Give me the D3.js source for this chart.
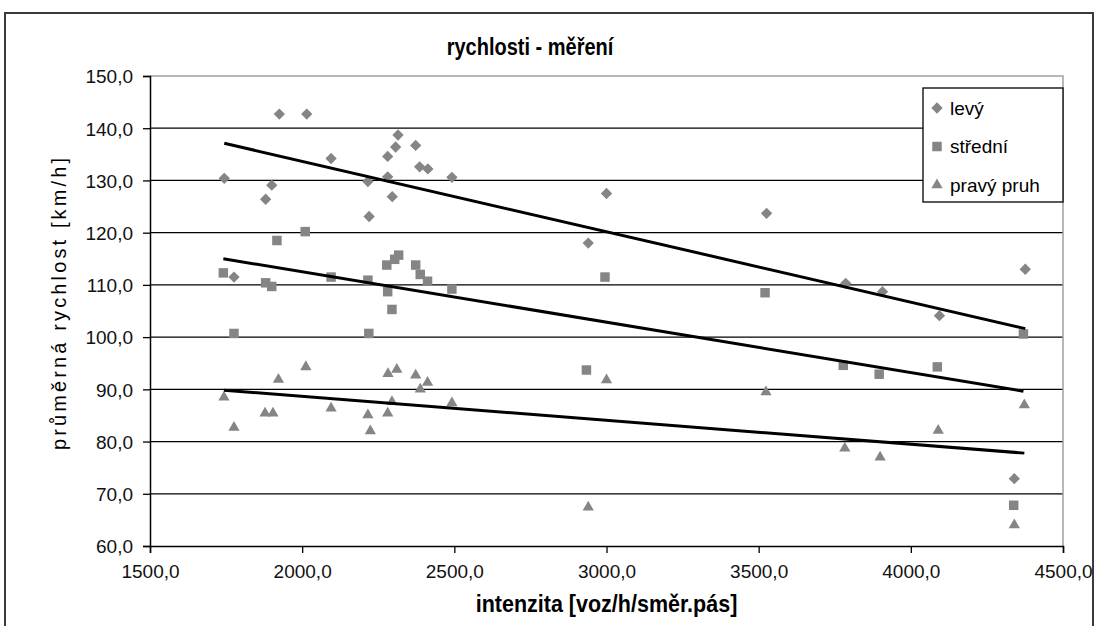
<!DOCTYPE html>
<html>
<head>
<meta charset="utf-8">
<script src="https://cdn.jsdelivr.net/npm/d3@7"></script>
<style>
  body { margin: 0; background: #fff; }
  svg { display: block; font-family: Arial, "Liberation Sans", sans-serif; }
</style>
</head>
<body>
<div id="chart"></div>
<script>
// ---------------------------------------------------------------- data
const seriesNames = ["levý", "střední", "pravý pruh"];

const levyX = [1744, 1776, 1880, 1900, 1925, 2015, 2095, 2216, 2220, 2281, 2281, 2296, 2307, 2315, 2373, 2386, 2413, 2492, 2940, 3000, 3526, 3786, 3907, 4094, 4340, 4376];
const levyY = [130.4, 111.5, 126.4, 129.1, 142.7, 142.7, 134.2, 129.8, 123.1, 134.6, 130.7, 126.9, 136.4, 138.7, 136.7, 132.6, 132.2, 130.6, 118.0, 127.5, 123.7, 110.3, 108.7, 104.1, 72.9, 113.0];

const stredniX = [1741, 1776, 1880, 1900, 1917, 2010, 2095, 2216, 2219, 2278, 2281, 2295, 2304, 2317, 2373, 2388, 2412, 2492, 2934, 2995, 3521, 3778, 3896, 4087, 4338, 4370];
const stredniY = [112.3, 100.7, 110.4, 109.7, 118.5, 120.2, 111.5, 110.9, 100.7, 113.8, 108.7, 105.3, 114.9, 115.7, 113.8, 112.0, 110.7, 109.2, 93.7, 111.5, 108.5, 94.6, 92.9, 94.3, 67.8, 100.6];

const pravyX = [1743, 1776, 1878, 1904, 1922, 2012, 2095, 2216, 2224, 2281, 2282, 2295, 2311, 2373, 2388, 2412, 2492, 2940, 3000, 3524, 3783, 3899, 4090, 4340, 4373];
const pravyY = [88.5, 82.7, 85.4, 85.4, 91.9, 94.3, 86.4, 85.1, 82.0, 85.4, 93.0, 87.6, 93.8, 92.7, 90.0, 91.3, 87.4, 67.4, 91.8, 89.5, 78.7, 77.0, 82.1, 64.0, 87.0];

const xTicks = [1500, 2000, 2500, 3000, 3500, 4000, 4500];
const yTicks = [60, 70, 80, 90, 100, 110, 120, 130, 140, 150];

// ---------------------------------------------------------------- setup
const width = 1098;
const height = 626;
const plot = { left: 150, right: 1063, top: 76, bottom: 546 };
const markerColor = "#858585";

const svg = d3.select("#chart")
	.append("svg")
	.attr("width", width)
	.attr("height", height);

// chart frame (runs off the bottom of the picture)
svg.append("rect")
	.attr("x", 5)
	.attr("y", 13)
	.attr("width", 1088)
	.attr("height", 640)
	.attr("fill", "#fff")
	.attr("stroke", "#3a3a3a")
	.attr("stroke-width", 2);

const x = d3.scaleLinear().domain([1500, 4500]).range([plot.left, plot.right]);
const y = d3.scaleLinear().domain([60, 150]).range([plot.bottom, plot.top]);

const fmt = (v) => d3.format(".1f")(v).replace(".", ",");

// gridlines
svg.append("g")
	.selectAll("line")
	.data(yTicks.filter((t) => t > 60 && t < 150))
	.enter()
	.append("line")
	.attr("x1", plot.left)
	.attr("x2", plot.right)
	.attr("y1", (d) => y(d))
	.attr("y2", (d) => y(d))
	.attr("stroke", "#000")
	.attr("stroke-width", 1.2);

// plot area border top / right (grey)
svg.append("path")
	.attr("d", `M${plot.left},${plot.top}H${plot.right}V${plot.bottom}`)
	.attr("fill", "none")
	.attr("stroke", "#a0a0a0")
	.attr("stroke-width", 1.5);

// axes
const yAxis = d3.axisLeft(y).tickValues(yTicks).tickFormat(fmt).tickSize(7).tickPadding(10);
const xAxis = d3.axisBottom(x).tickValues(xTicks).tickFormat(fmt).tickSize(7).tickPadding(11);

const gy = svg.append("g")
	.attr("transform", `translate(${plot.left},0)`)
	.call(yAxis);
const gx = svg.append("g")
	.attr("transform", `translate(0,${plot.bottom})`)
	.call(xAxis);

[gy, gx].forEach((g) => {
	g.select(".domain").attr("stroke", "#000").attr("stroke-width", 1.5);
	g.selectAll(".tick line").attr("stroke", "#000").attr("stroke-width", 1.3);
	g.selectAll(".tick text")
		.attr("fill", "#111")
		.style("font-size", "19px")
		.style("font-family", "Arial, 'Liberation Sans', sans-serif");
});
gy.selectAll(".tick text").attr("dy", "0.36em");
gx.selectAll(".tick text").attr("dy", "0.75em");

// ---------------------------------------------------------------- series
const series = [
	{ name: seriesNames[0], xs: levyX, ys: levyY, symbol: "diamond" },
	{ name: seriesNames[1], xs: stredniX, ys: stredniY, symbol: "square" },
	{ name: seriesNames[2], xs: pravyX, ys: pravyY, symbol: "triangle" }
];

function marker(sel, type) {
	if (type === "diamond") {
		sel.attr("d", d3.symbol(d3.symbolSquare, 64)());
	} else if (type === "square") {
		sel.attr("d", d3.symbol(d3.symbolSquare, 90)());
	} else {
		sel.attr("d", d3.symbol(d3.symbolTriangle, 55)());
	}
}

series.forEach((s) => {
	const pts = s.xs.map((v, i) => [v, s.ys[i]]);
	const rot = s.symbol === "diamond" ? " rotate(45)" : "";
	svg.append("g")
		.selectAll("path")
		.data(pts)
		.enter()
		.append("path")
		.call(marker, s.symbol)
		.attr("transform", (d) => `translate(${x(d[0])},${y(d[1])})${rot}`)
		.attr("fill", markerColor);
});

// linear trend lines (least squares, as in the spreadsheet)
series.forEach((s) => {
	const n = s.xs.length;
	const mx = d3.mean(s.xs);
	const my = d3.mean(s.ys);
	let sxy = 0, sxx = 0;
	for (let i = 0; i < n; i++) {
		sxy += (s.xs[i] - mx) * (s.ys[i] - my);
		sxx += (s.xs[i] - mx) * (s.xs[i] - mx);
	}
	const b = sxy / sxx;
	const a = my - b * mx;
	const ext = d3.extent(s.xs);
	svg.append("line")
		.attr("x1", x(ext[0]))
		.attr("x2", x(ext[1]))
		.attr("y1", y(a + b * ext[0]))
		.attr("y2", y(a + b * ext[1]))
		.attr("stroke", "#000")
		.attr("stroke-width", 3);
});

// ---------------------------------------------------------------- texts
// the original glyphs are a bit taller than wide, hence the scale(1,1.15)
svg.append("text")
	.attr("transform", "translate(530,55) scale(1,1.15)")
	.attr("text-anchor", "middle")
	.style("font-size", "20px")
	.style("font-weight", "bold")
	.text("rychlosti - měření");

svg.append("text")
	.attr("transform", `translate(${(plot.left + plot.right) / 2},612) scale(1,1.1)`)
	.attr("text-anchor", "middle")
	.style("font-size", "21.5px")
	.style("font-weight", "bold")
	.text("intenzita [voz/h/směr.pás]");

svg.append("text")
	.attr("transform", `translate(66,${(158 + 450) / 2}) rotate(-90)`)
	.attr("text-anchor", "middle")
	.attr("textLength", 292)
	.attr("lengthAdjust", "spacing")
	.style("font-size", "20px")
	.text("průměrná rychlost  [km/h]");

// ---------------------------------------------------------------- legend
const legend = svg.append("g").attr("transform", "translate(923,88)");
legend.append("rect")
	.attr("width", 140)
	.attr("height", 114)
	.attr("fill", "#fff")
	.attr("stroke", "#000")
	.attr("stroke-width", 1.3);

series.forEach((s, i) => {
	const yy = 20 + i * 38.5;
	const rot = s.symbol === "diamond" ? " rotate(45)" : "";
	legend.append("path")
		.call(marker, s.symbol)
		.attr("transform", `translate(14,${yy})${rot}`)
		.attr("fill", markerColor);
	legend.append("text")
		.attr("x", 27)
		.attr("y", yy)
		.attr("dy", "0.36em")
		.style("font-size", "19px")
		.text(s.name);
});
</script>
</body>
</html>
